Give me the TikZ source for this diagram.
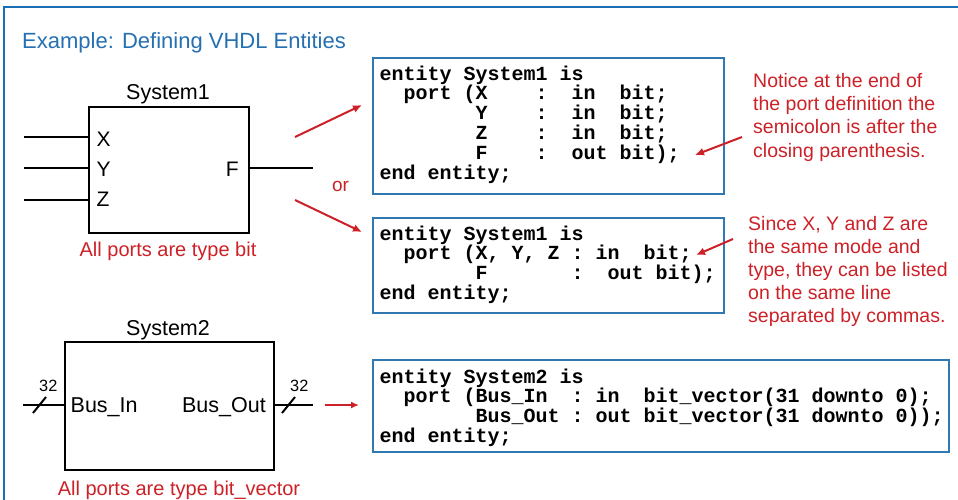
\documentclass[tikz,border=0pt]{standalone}
\usepackage{fontspec}
\setmainfont{Liberation Sans}
\newfontfamily\codefont{Liberation Mono}
\usetikzlibrary{arrows.meta}
\definecolor{framebl}{RGB}{26,111,181}
\definecolor{titlebl}{RGB}{36,112,178}
\definecolor{codebl}{RGB}{48,121,176}
\definecolor{annred}{RGB}{205,33,40}
\newcommand\codeblock[1]{\parbox[t]{600pt}{\codefont\bfseries\fontsize{20}{19.8}\selectfont\lineskiplimit=-\maxdimen #1}}
\newcommand\annblock[2]{\parbox[t]{220pt}{\raggedright\fontsize{19.5}{#1}\selectfont\lineskiplimit=-\maxdimen\color{annred}#2}}
\newcommand\ind[1]{\null\hspace*{#1\fontcharwd\font`\ }}
\begin{document}
\begin{tikzpicture}[x=1pt,y=-1pt,
  blk/.style={draw=black, line width=2.4pt, fill=white, inner sep=0},
  codebox/.style={draw=codebl, line width=2pt, fill=white, inner sep=0},
  wire/.style={black, line width=2.4pt},
  lbl/.style={inner sep=0, font=\fontsize{21.5}{25}\selectfont},
  portlbl/.style={inner sep=0, font=\fontsize{21}{25}\selectfont},
  redlbl/.style={inner sep=0, text=annred, font=\fontsize{20}{24}\selectfont},
  buswidth/.style={inner sep=0, anchor=base, font=\fontsize{16.3}{20}\selectfont},
  redarrow/.style={annred, line width=2pt, -{Latex[length=9pt,width=8pt]}},
  code/.style={inner sep=0, anchor=base west},
  ann/.style={inner sep=0, anchor=base west},
]
\useasboundingbox (0,0) rectangle (958,499);
\fill[white] (0,0) rectangle (958,499);
\draw[framebl, line width=2.6pt] (4,501) -- (4,7) -- (960,7);

\node[anchor=base west, inner sep=0, text=titlebl, font=\fontsize{22}{26}\selectfont] (title) at (22,48) {Example: Defining VHDL Entities};

% ---------- System1 ----------
\node[blk, anchor=north west, minimum width=160, minimum height=126] (s1) at (88,106) {};
\node[lbl, anchor=base] (s1name) at (168,99.5) {System1};
\coordinate (inX) at (24,137);
\coordinate (inY) at (24,168);
\coordinate (inZ) at (24,200);
\coordinate (outF) at (313,168);
\draw[wire] (inX) -- (inX -| s1.west);
\draw[wire] (inY) -- (inY -| s1.west);
\draw[wire] (inZ) -- (inZ -| s1.west);
\draw[wire] (s1.east |- outF) -- (outF);
\node[portlbl, anchor=base west] (pX) at (96.5,146.7) {X};
\node[portlbl, anchor=base west] (pY) at (96.5,176.7) {Y};
\node[portlbl, anchor=base west] (pZ) at (96.5,206.7) {Z};
\node[portlbl, anchor=base east] (pF) at (239,176.7) {F};
\node[redlbl, anchor=base] (s1note) at (168,256) {All ports are type bit};
\node[redlbl, anchor=base, font=\fontsize{19}{23}\selectfont] (orlbl) at (340.5,191.7) {or};

% ---------- code boxes ----------
\node[codebox, anchor=north west, minimum width=351, minimum height=136] (b1) at (372,57) {};
\node[code] (t1) at (379.5,80) {\codeblock{entity System1 is\\
\ind{2}port (X~~~~:~~in~~bit;\\
\ind{8}Y~~~~:~~in~~bit;\\
\ind{8}Z~~~~:~~in~~bit;\\
\ind{8}F~~~~:~~out~bit);\\
end entity;}};

\node[codebox, anchor=north west, minimum width=351, minimum height=95] (b2) at (372,217) {};
\node[code] (t2) at (379.5,240) {\codeblock{entity System1 is\\
\ind{2}port (X,~Y,~Z~:~in~~bit;\\
\ind{8}F~~~~~~~:~~out~bit);\\
end entity;}};

\node[codebox, anchor=north west, minimum width=576, minimum height=92] (b3) at (372,359) {};
\node[code] (t3) at (379.5,383) {\codeblock{entity System2 is\\
\ind{2}port (Bus\_In~~:~in~~bit\_vector(31~downto~0);\\
\ind{8}Bus\_Out~:~out~bit\_vector(31~downto~0));\\
end entity;}};

% ---------- arrows from System1 ----------
\coordinate (r1s) at (295,137);
\coordinate (r1e) at (362,105);
\coordinate (r2s) at (295,200);
\coordinate (r2e) at (362,232);
\draw[redarrow] (r1s) -- (r1e);
\draw[redarrow] (r2s) -- (r2e);

% ---------- annotations ----------
\node[ann] (ann1) at (753,73.4) {\annblock{23.2}{Notice at the end of\\the port definition the\\semicolon is after the\\closing parenthesis.}};
\node[ann] (ann2) at (748,216.7) {\annblock{22.9}{Since X, Y and Z are\\the same mode and\\type, they can be listed\\on the same line\\separated by commas.}};
\coordinate (a1s) at (742,137);
\coordinate (a1e) at (695,155);
\coordinate (a2s) at (733,239);
\coordinate (a2e) at (696,255);
\draw[redarrow] (a1s) -- (a1e);
\draw[redarrow] (a2s) -- (a2e);

% ---------- System2 ----------
\node[lbl, anchor=base] (s2name) at (168,335) {System2};
\node[blk, anchor=north west, minimum width=209, minimum height=128] (s2) at (64,341) {};
\coordinate (busin) at (23,405);
\coordinate (busout) at (313,405);
\draw[wire] (busin) -- (busin -| s2.west);
\draw[wire] (s2.east |- busout) -- (busout);
\draw[wire, line width=2pt] (33,413) -- (46,397);
\draw[wire, line width=2pt] (282,413) -- (295,397);
\node[buswidth] (w1) at (48.3,391.7) {32};
\node[buswidth] (w2) at (299.3,391.7) {32};
\node[lbl, anchor=base west] (bin) at (70.5,412.5) {Bus\_In};
\node[lbl, anchor=base east] (bout) at (266,412.5) {Bus\_Out};
\coordinate (r3s) at (325,405);
\coordinate (r3e) at (359,405);
\draw[annred, line width=2pt, -{Latex[length=8pt,width=7pt]}] (r3s) -- (r3e);
\node[redlbl, anchor=base] (s2note) at (179,495) {All ports are type bit\_vector};
\end{tikzpicture}
\end{document}
